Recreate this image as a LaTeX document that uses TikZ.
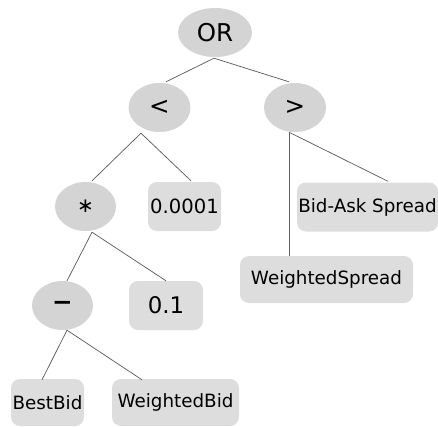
\documentclass[tikz,border=0pt]{standalone}
\usepackage{fontspec}
\setmainfont{DejaVu Sans}
\usetikzlibrary{shapes.geometric,calc}
\definecolor{opfill}{RGB}{212,212,212}
\definecolor{leaffill}{RGB}{221,221,221}
\definecolor{edgecol}{RGB}{95,95,95}
\tikzset{
  opnode/.style={ellipse,fill=opfill,inner sep=0pt,minimum width=62pt,minimum height=49pt},
  leafnode/.style={rectangle,rounded corners=9pt,fill=leaffill,inner sep=0pt,minimum height=49pt},
  conn/.style={draw=edgecol,line width=0.75pt},
}
\newcommand{\fsz}[1]{\fontsize{#1}{#1}\selectfont}
\begin{document}
\begin{tikzpicture}[x=1pt,y=-1pt]
\useasboundingbox (0,0) rectangle (438,426);
% nodes
\node[opnode,minimum width=74pt] (or) at (215,32.5) {\fsz{24.5}OR};
\node[opnode] (lt) at (159.5,107.5) {\fsz{24.5}<};
\node[opnode] (gt) at (295,107.5) {\fsz{24.5}>};
\node[opnode,minimum width=61pt] (mul) at (85.5,206.5) {\fsz{20}∗};
\node[leafnode,minimum width=73pt] (c1) at (184.5,206.5) {\fsz{19.6}0.0001};
\node[leafnode,minimum width=141pt] (ba) at (367.5,207) {\fsz{18.3}Bid-Ask Spread};
\node[leafnode,minimum width=173pt,minimum height=47pt] (ws) at (326.5,279.5) {\fsz{18.3}WeightedSpread};
\node[opnode,minimum width=61pt] (sub) at (62.5,305.5) {\fsz{24.5}\bfseries −};
\node[leafnode,minimum width=74pt] (c2) at (166,305.5) {\fsz{22.9}0.1};
\node[leafnode,minimum width=73pt,minimum height=47pt] (bb) at (47.5,402.5) {\fsz{18.3}BestBid};
\node[leafnode,minimum width=127pt,minimum height=47pt] (wb) at (175.5,402.5) {\fsz{18.3}WeightedBid};
% connector apexes
\coordinate (aor) at ($(or.south)+(-1,1)$);
\coordinate (alt) at ($(lt.south)+(-18.5,1)$);
\coordinate (agt) at ($(gt.south)+(-6,0)$);
\coordinate (amul) at ($(mul.south)+(6.5,1)$);
\coordinate (asub) at ($(sub.south)+(4.5,0)$);
% connectors
\draw[conn] (aor) -- ($(lt.north)+(6.5,-1)$);
\draw[conn] (aor) -- ($(gt.north)+(-6,-1)$);
\draw[conn] (alt) -- ($(mul.north)+(6.5,-1)$);
\draw[conn] (alt) -- ($(c1.north)+(6.5,-1)$);
\draw[conn] (agt) -- ($(ws.north)+(-37.5,0)$);
\draw[conn] (agt) -- ($(ba.north)+(20.5,-1)$);
\draw[conn] (amul) -- ($(sub.north)+(4.5,0)$);
\draw[conn] (amul) -- (c2.north);
\draw[conn] (asub) -- ($(bb.north)+(-5.5,1)$);
\draw[conn] (asub) -- ($(wb.north)+(-33.5,1)$);
\end{tikzpicture}
\end{document}
